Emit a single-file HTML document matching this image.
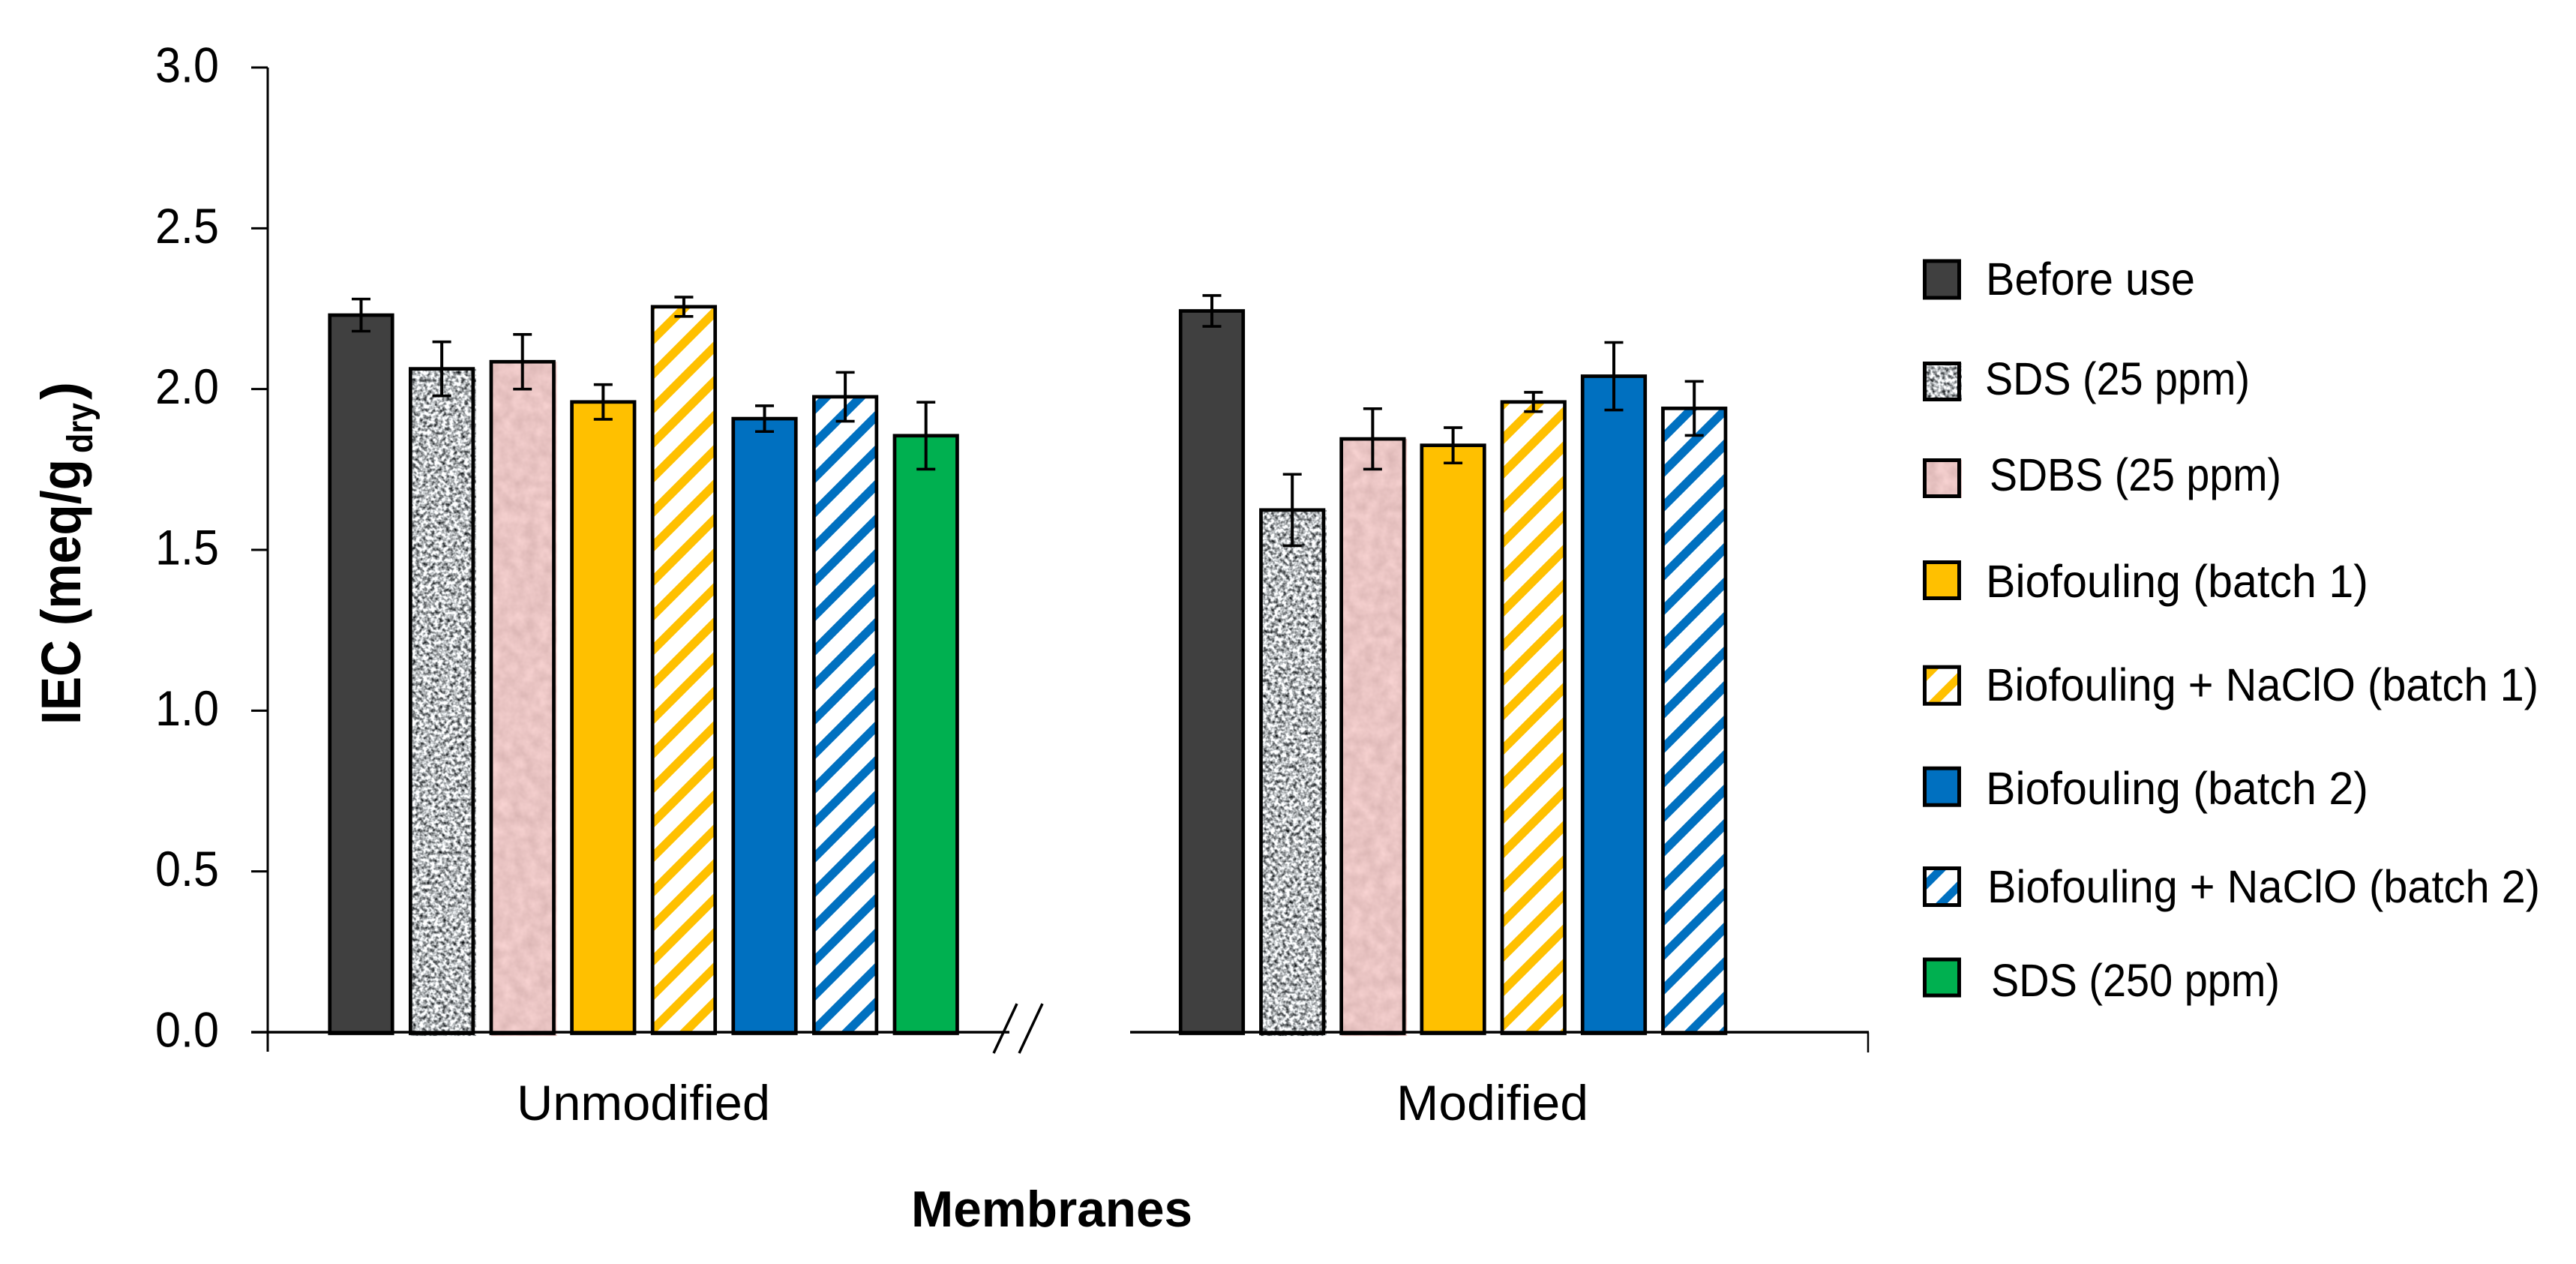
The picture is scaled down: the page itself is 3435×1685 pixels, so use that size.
<!DOCTYPE html>
<html lang="en">
<head>
<meta charset="utf-8">
<title>IEC of membranes</title>
<style>
html,body{margin:0;padding:0;background:#fff;width:3435px;height:1685px;overflow:hidden}
svg{display:block}
text{font-family:"Liberation Sans",sans-serif;fill:#000}
.tick{font-size:66px}
.cat{font-size:66px}
.leg{font-size:61px}
.title{font-weight:bold}
</style>
</head>
<body>
<svg id="chart" xmlns="http://www.w3.org/2000/svg" width="3435" height="1685" viewBox="0 0 3435 1685">
<defs>
<pattern id="hatch-yellow-u" width="46" height="46" patternUnits="userSpaceOnUse" patternTransform="translate(35,0)"><rect width="46" height="46" fill="#fff"/><path d="M-10 10L10 -10M-10 56L56 -10M36 56L56 36" stroke="#ffc000" stroke-width="11.6" fill="none"/></pattern>
<pattern id="hatch-blue-u" width="46" height="46" patternUnits="userSpaceOnUse" patternTransform="translate(21,0)"><rect width="46" height="46" fill="#fff"/><path d="M-10 10L10 -10M-10 56L56 -10M36 56L56 36" stroke="#0070c0" stroke-width="11.6" fill="none"/></pattern>
<pattern id="hatch-yellow-m" width="46" height="46" patternUnits="userSpaceOnUse" patternTransform="translate(13,0)"><rect width="46" height="46" fill="#fff"/><path d="M-10 10L10 -10M-10 56L56 -10M36 56L56 36" stroke="#ffc000" stroke-width="11.6" fill="none"/></pattern>
<pattern id="hatch-blue-m" width="46" height="46" patternUnits="userSpaceOnUse" patternTransform="translate(41,0)"><rect width="46" height="46" fill="#fff"/><path d="M-10 10L10 -10M-10 56L56 -10M36 56L56 36" stroke="#0070c0" stroke-width="11.6" fill="none"/></pattern>
<pattern id="hatch-yellow-l" width="46" height="46" patternUnits="userSpaceOnUse" patternTransform="translate(19,0)"><rect width="46" height="46" fill="#fff"/><path d="M-10 10L10 -10M-10 56L56 -10M36 56L56 36" stroke="#ffc000" stroke-width="11" fill="none"/></pattern>
<pattern id="hatch-blue-l" width="46" height="46" patternUnits="userSpaceOnUse" patternTransform="translate(21,0)"><rect width="46" height="46" fill="#fff"/><path d="M-10 10L10 -10M-10 56L56 -10M36 56L56 36" stroke="#0070c0" stroke-width="11" fill="none"/></pattern>
<filter id="noise-grey" x="0" y="0" width="100%" height="100%" color-interpolation-filters="sRGB">
<feTurbulence type="fractalNoise" baseFrequency="0.2" numOctaves="2" seed="7" result="t"/>
<feColorMatrix in="t" type="matrix" values="1.9 0 0 0 -0.23  1.9 0 0 0 -0.215  1.9 0 0 0 -0.205  0 0 0 0 1" result="g"/>
<feComposite in="g" in2="SourceGraphic" operator="in"/>
</filter>
<filter id="noise-pink" x="0" y="0" width="100%" height="100%" color-interpolation-filters="sRGB">
<feTurbulence type="fractalNoise" baseFrequency="0.06" numOctaves="3" seed="3" result="t"/>
<feColorMatrix in="t" type="matrix" values="0.14 0 0 0 0.845  0.14 0 0 0 0.70  0.14 0 0 0 0.695  0 0 0 0 1" result="g"/>
<feComposite in="g" in2="SourceGraphic" operator="in"/>
</filter>
</defs>

<g id="y-axis"></g>
<g id="bars"></g>
<g id="baselines"></g>
<g id="errors"></g>

<g stroke="#000" stroke-width="3.5">
<line x1="1325" y1="1404" x2="1356" y2="1338"/>
<line x1="1359" y1="1404" x2="1390" y2="1338"/>
</g>

<text class="cat" x="689" y="1493" textLength="338" lengthAdjust="spacingAndGlyphs">Unmodified</text>
<text class="cat" x="1862" y="1493" textLength="256" lengthAdjust="spacingAndGlyphs">Modified</text>
<text class="title" x="1215" y="1635" font-size="68" textLength="375" lengthAdjust="spacingAndGlyphs">Membranes</text>

<g>
<text class="title" transform="translate(107,966) rotate(-90)" font-size="74" textLength="354" lengthAdjust="spacingAndGlyphs">IEC (meq/g</text>
<text class="title" transform="translate(123,604) rotate(-90)" font-size="48" font-weight="normal" textLength="67" lengthAdjust="spacingAndGlyphs">dry</text>
<text class="title" transform="translate(107,533) rotate(-90)" font-size="74" textLength="24" lengthAdjust="spacingAndGlyphs">)</text>
</g>

<g stroke-width="5">
<g><rect x="2566.5" y="348" width="46" height="49" fill="#404040" stroke="#000"/><text class="leg" stroke="none" x="2648" y="393" textLength="279" lengthAdjust="spacingAndGlyphs">Before use</text></g>
<g><rect x="2566" y="484" width="50" height="51" fill="#aaa" filter="url(#noise-grey)"/><rect x="2566.5" y="484.5" width="46" height="48" fill="none" stroke="#000"/><text class="leg" stroke="none" x="2647" y="526" textLength="353" lengthAdjust="spacingAndGlyphs">SDS (25 ppm)</text></g>
<g><rect x="2566" y="613" width="50" height="51" fill="#e8c4c2" filter="url(#noise-pink)"/><rect x="2566.5" y="613.5" width="46" height="48" fill="none" stroke="#000"/><text class="leg" stroke="none" x="2653" y="654" textLength="389" lengthAdjust="spacingAndGlyphs">SDBS (25 ppm)</text></g>
<g><rect x="2566.5" y="749.5" width="46" height="48" fill="#ffc000" stroke="#000"/><text class="leg" stroke="none" x="2648" y="796" textLength="510" lengthAdjust="spacingAndGlyphs">Biofouling (batch 1)</text></g>
<g><rect x="2566.5" y="889.2" width="46" height="49" fill="url(#hatch-yellow-l)" stroke="#000"/><text class="leg" stroke="none" x="2648" y="934" textLength="737" lengthAdjust="spacingAndGlyphs">Biofouling + NaClO (batch 1)</text></g>
<g><rect x="2566.5" y="1024.2" width="46" height="49" fill="#0070c0" stroke="#000"/><text class="leg" stroke="none" x="2648" y="1072" textLength="510" lengthAdjust="spacingAndGlyphs">Biofouling (batch 2)</text></g>
<g><rect x="2566.5" y="1157.5" width="46" height="49" fill="url(#hatch-blue-l)" stroke="#000"/><text class="leg" stroke="none" x="2650" y="1203" textLength="737" lengthAdjust="spacingAndGlyphs">Biofouling + NaClO (batch 2)</text></g>
<g><rect x="2566.5" y="1279" width="46" height="48" fill="#00b050" stroke="#000"/><text class="leg" stroke="none" x="2655" y="1328" textLength="385" lengthAdjust="spacingAndGlyphs">SDS (250 ppm)</text></g>
</g>
</svg>

<script>
const categories = ["Unmodified", "Modified"];
const seriesNames = ["Before use", "SDS (25 ppm)", "SDBS (25 ppm)", "Biofouling (batch 1)", "Biofouling + NaClO (batch 1)", "Biofouling (batch 2)", "Biofouling + NaClO (batch 2)", "SDS (250 ppm)"];
const unmodifiedValues = [2.23, 2.063, 2.085, 1.96, 2.256, 1.908, 1.976, 1.855];
const unmodifiedErrors = [0.05, 0.084, 0.085, 0.054, 0.03, 0.04, 0.076, 0.104];
const modifiedValues = [2.243, 1.624, 1.845, 1.825, 1.96, 2.04, 1.94];
const modifiedErrors = [0.048, 0.111, 0.094, 0.055, 0.03, 0.105, 0.084];
const yTickValues = [0, 0.5, 1, 1.5, 2, 2.5, 3];
const yTickLabels = ["0.0", "0.5", "1.0", "1.5", "2.0", "2.5", "3.0"];

const NS = "http://www.w3.org/2000/svg";
function yScale(v) { return 1376 - 428.67 * v; }
function xScale(groupIndex, i) {
  const start = groupIndex === 0 ? 481.5 : 1616;
  const step = groupIndex === 0 ? 107.6 : 107.2;
  return start + i * step;
}
function fillFor(groupIndex, i) {
  const suffix = groupIndex === 0 ? "u" : "m";
  if (i === 0) return "#404040";
  if (i === 1) return "#aaa";
  if (i === 2) return "#e8c4c2";
  if (i === 3) return "#ffc000";
  if (i === 4) return "url(#hatch-yellow-" + suffix + ")";
  if (i === 5) return "#0070c0";
  if (i === 6) return "url(#hatch-blue-" + suffix + ")";
  return "#00b050";
}
function make(tag, parent, attrs) {
  const el = document.createElementNS(NS, tag);
  for (const k in attrs) el.setAttribute(k, attrs[k]);
  parent.appendChild(el);
  return el;
}

const yAxis = document.getElementById("y-axis");
const axisLine = make("line", yAxis, { x1: 357, x2: 357, y1: yScale(3), y2: 1402, stroke: "#000", "stroke-width": 3 });


yTickValues.forEach(function (v, idx) {
  const tick = make("line", yAxis, { x1: 335, x2: 357, y1: yScale(v), y2: yScale(v), stroke: "#000", "stroke-width": 3 });
  
  
  const label = make("text", yAxis, { class: "tick", x: 207, y: yScale(v) + 19.5, textLength: 85, lengthAdjust: "spacingAndGlyphs" });
  label.textContent = yTickLabels[idx];
  
  
});

const barsG = document.getElementById("bars");
const errG = document.getElementById("errors");
const BAR_W = 83.5;
const CAP = 25;
[unmodifiedValues, modifiedValues].forEach(function (values, g) {
  const errs = g === 0 ? unmodifiedErrors : modifiedErrors;
  values.forEach(function (v, i) {
    const cx = xScale(g, i);
    const top = yScale(v);
    const bottom = yScale(0) + 1.5;
    if (i === 1 || i === 2) {
      const tex = make("rect", barsG, { x: cx - BAR_W / 2, y: top, width: BAR_W + 4, height: bottom - top + 3.5, fill: fillFor(g, i), filter: i === 1 ? "url(#noise-grey)" : "url(#noise-pink)" });
      
      
    }
    const bar = make("rect", barsG, {
      x: cx - BAR_W / 2, y: top, width: BAR_W, height: bottom - top,
      fill: (i === 1 || i === 2) ? "none" : fillFor(g, i), stroke: "#000", "stroke-width": 4.7
    });
    
    
    bar.setAttribute('data-series', seriesNames[i]);
    bar.setAttribute('data-category', categories[g]);

    const e = errs[i];
    const hi = yScale(v + e);
    const lo = yScale(v - e);
    const stem = make("line", errG, { x1: cx, x2: cx, y1: hi, y2: lo, stroke: "#000", "stroke-width": 4 });
    
    
    const capTop = make("line", errG, { x1: cx - CAP / 2, x2: cx + CAP / 2, y1: hi, y2: hi, stroke: "#000", "stroke-width": 3.6 });
    
    
    const capBot = make("line", errG, { x1: cx - CAP / 2, x2: cx + CAP / 2, y1: lo, y2: lo, stroke: "#000", "stroke-width": 3.6 });
    
    
  });
});

const baseG = document.getElementById("baselines");
const base1 = make("line", baseG, { x1: 335, x2: 1346, y1: yScale(0), y2: yScale(0), stroke: "#000", "stroke-width": 3.6 });


const base2 = make("line", baseG, { x1: 1507, x2: 2492, y1: yScale(0), y2: yScale(0), stroke: "#000", "stroke-width": 3.6 });


const endTick = make("line", baseG, { x1: 2491, x2: 2491, y1: yScale(0), y2: 1403, stroke: "#000", "stroke-width": 2.5 });


</script>
</body>
</html>
